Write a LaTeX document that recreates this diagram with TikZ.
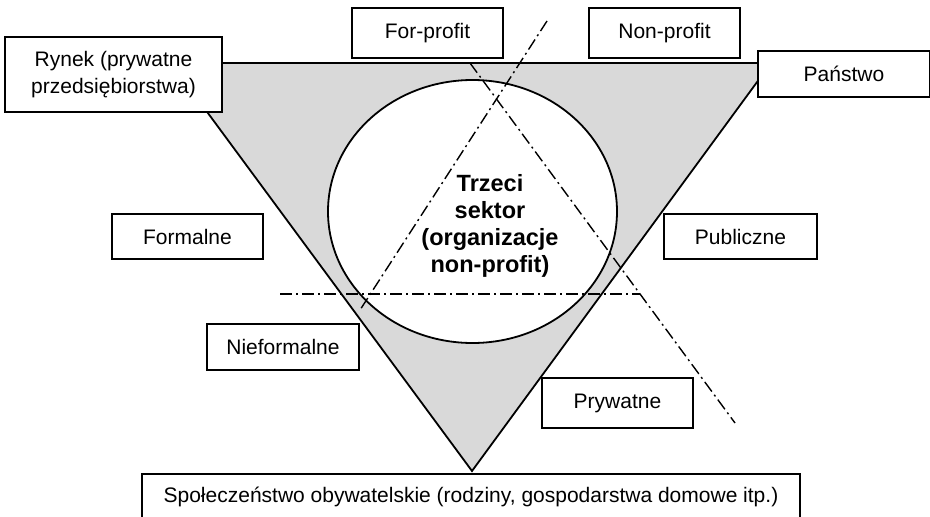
\documentclass[tikz,border=0pt]{standalone}
\usepackage{fontspec}
\setmainfont{Liberation Sans}
\usetikzlibrary{shapes.geometric}
\definecolor{triGray}{RGB}{217,217,217}
\begin{document}
\begin{tikzpicture}[x=1pt,y=-1pt,
  box/.style={draw=black, line width=1.8pt, fill=white, inner sep=0pt, align=center,
    font=\fontsize{21}{27}\selectfont},
  dd/.style={line width=1.4pt, dash pattern=on 12pt off 4pt on 2pt off 4pt},
  outline/.style={draw=black, line width=1.8pt}]
\useasboundingbox (0,0) rectangle (930,517);
\clip (0,0) rectangle (930,517);
% triangle
\coordinate (tl) at (171,63);
\coordinate (tr) at (771,63);
\coordinate (ap) at (472,471);
\filldraw[outline, fill=triGray, line join=miter] (tl) -- (tr) -- (ap) -- cycle;
\draw[outline, line width=2.4pt] (tl) -- (tr);
% third sector ellipse
\node[ellipse, outline, fill=white, minimum width=289pt, minimum height=263pt, inner sep=0pt] (sector) at (472.5,211.5) {};
\node[font=\bfseries\fontsize{23.5}{27}\selectfont, align=center] (sectortext) at (490,226)
  {Trzeci\\sektor\\(organizacje\\non-profit)};
% dash-dot dividing lines
\coordinate (h1) at (280,294);
\coordinate (h2) at (640,294);
\coordinate (a1) at (470,63);
\coordinate (a2) at (735,423);
\coordinate (b1) at (547,21);
\coordinate (b2) at (360,310);
\draw[dd] (h1) -- (h2);
\draw[dd] (a1) -- (a2);
\draw[dd] (b1) -- (b2);
% boxes
\node[box, minimum width=217pt, minimum height=75pt] (rynek) at (113.5,74.5) {Rynek (prywatne\\przedsiębiorstwa)};
\node[box, minimum width=151pt, minimum height=50pt] (forprofit) at (427.5,33) {For-profit};
\node[box, minimum width=151pt, minimum height=50pt] (nonprofit) at (664.5,33) {Non-profit};
\node[box, minimum width=172pt, minimum height=46pt] (panstwo) at (844,74) {Państwo};
\node[box, minimum width=151pt, minimum height=45pt] (formalne) at (187.5,236.5) {Formalne};
\node[box, minimum width=153pt, minimum height=45pt] (publiczne) at (740.5,236.5) {Publiczne};
\node[box, minimum width=152pt, minimum height=46pt] (nieformalne) at (283,347) {Nieformalne};
\node[box, minimum width=151pt, minimum height=50pt] (prywatne) at (617.5,403) {Prywatne};
\node[box, minimum width=658pt, minimum height=46pt] (spol) at (471,497) {Społeczeństwo obywatelskie (rodziny, gospodarstwa domowe itp.)};
\end{tikzpicture}
\end{document}
